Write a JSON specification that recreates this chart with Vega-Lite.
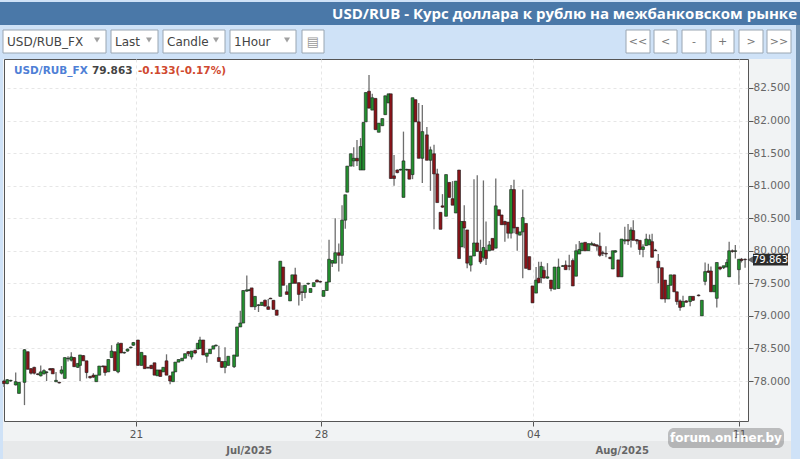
{"$schema":"https://vega.github.io/schema/vega-lite/v6.json","width":744,"height":362,"autosize":"none","padding":{"left":4,"top":59,"right":52,"bottom":38},"background":"#f1f3f4","config":{"view":{"stroke":"#555555","fill":"#ffffff"},"font":"DejaVu Sans"},
"datasets":{"candles":[
{"t":0,"o":78.0,"h":78.02,"l":77.91,"c":77.96},{"t":1,"o":77.96,"h":78.03,"l":77.95,"c":78.02},{"t":2.05,"o":78.0,"h":78.02,"l":77.99,"c":78.01},{"t":3.6,"o":77.94,"h":78.13,"l":77.93,"c":77.99},{"t":4.6,"o":77.81,"h":77.98,"l":77.81,"c":77.98},{"t":6.3,"o":77.98,"h":78.49,"l":77.63,"c":78.48},{"t":7.3,"o":78.45,"h":78.45,"l":78.18,"c":78.18},{"t":8.3,"o":78.19,"h":78.2,"l":78.1,"c":78.12},{"t":9.3,"o":78.21,"h":78.22,"l":78.1,"c":78.12},{"t":10.4,"o":78.11,"h":78.12,"l":78.09,"c":78.1},
{"t":11.3,"o":78.08,"h":78.24,"l":78.07,"c":78.14},{"t":12.3,"o":78.11,"h":78.18,"l":78.1,"c":78.16},{"t":13.1,"o":78.13,"h":78.15,"l":78.0,"c":78.14},{"t":14.2,"o":78.19,"h":78.2,"l":78.16,"c":78.17},{"t":15,"o":78.19,"h":78.2,"l":78.11,"c":78.11},{"t":16,"o":77.99,"h":78.14,"l":77.98,"c":78.01},{"t":17,"o":77.98,"h":77.99,"l":77.96,"c":77.97},{"t":17.7,"o":78.12,"h":78.23,"l":78.1,"c":78.17},{"t":18.7,"o":78.04,"h":78.36,"l":78.04,"c":78.36},{"t":19.7,"o":78.34,"h":78.38,"l":78.3,"c":78.35},
{"t":20.7,"o":78.32,"h":78.44,"l":78.3,"c":78.37},{"t":21.6,"o":78.36,"h":78.37,"l":78.22,"c":78.22},{"t":22.7,"o":78.21,"h":78.27,"l":78.2,"c":78.27},{"t":23.4,"o":78.24,"h":78.4,"l":78.0,"c":78.4},{"t":24.4,"o":78.39,"h":78.4,"l":78.31,"c":78.31},{"t":25.4,"o":78.31,"h":78.31,"l":78.04,"c":78.13},{"t":26.5,"o":78.07,"h":78.08,"l":78.04,"c":78.05},{"t":27.5,"o":78.09,"h":78.12,"l":78.05,"c":78.06},{"t":28.4,"o":77.99,"h":78.09,"l":77.99,"c":78.09},{"t":29.3,"o":78.09,"h":78.23,"l":78.09,"c":78.23},
{"t":30.4,"o":78.23,"h":78.24,"l":78.21,"c":78.22},{"t":31.1,"o":78.23,"h":78.23,"l":78.08,"c":78.13},{"t":32.1,"o":78.14,"h":78.33,"l":78.14,"c":78.33},{"t":33.1,"o":78.36,"h":78.55,"l":78.36,"c":78.46},{"t":34.1,"o":78.45,"h":78.45,"l":78.16,"c":78.16},{"t":35.1,"o":78.14,"h":78.6,"l":78.12,"c":78.57},{"t":36,"o":78.58,"h":78.58,"l":78.43,"c":78.43},{"t":37,"o":78.43,"h":78.45,"l":78.42,"c":78.44},{"t":38,"o":78.46,"h":78.5,"l":78.45,"c":78.49},{"t":39,"o":78.51,"h":78.53,"l":78.5,"c":78.52},
{"t":39.8,"o":78.55,"h":78.6,"l":78.54,"c":78.59},{"t":41.2,"o":78.63,"h":78.63,"l":78.24,"c":78.24},{"t":42.3,"o":78.24,"h":78.44,"l":78.24,"c":78.44},{"t":43.3,"o":78.39,"h":78.39,"l":78.19,"c":78.19},{"t":44.3,"o":78.21,"h":78.22,"l":78.19,"c":78.2},{"t":45.3,"o":78.24,"h":78.25,"l":78.19,"c":78.19},{"t":46.3,"o":78.28,"h":78.28,"l":78.09,"c":78.09},{"t":47.2,"o":78.08,"h":78.17,"l":78.08,"c":78.17},{"t":48.1,"o":78.17,"h":78.17,"l":78.07,"c":78.07},{"t":49,"o":78.14,"h":78.21,"l":78.14,"c":78.21},
{"t":50,"o":78.31,"h":78.41,"l":78.09,"c":78.09},{"t":51.1,"o":78.08,"h":78.08,"l":77.95,"c":78.0},{"t":52,"o":77.99,"h":78.14,"l":77.99,"c":78.14},{"t":52.7,"o":78.14,"h":78.29,"l":78.14,"c":78.29},{"t":53.7,"o":78.29,"h":78.33,"l":78.29,"c":78.33},{"t":54.8,"o":78.31,"h":78.35,"l":78.31,"c":78.35},{"t":55.7,"o":78.35,"h":78.42,"l":78.35,"c":78.42},{"t":56.7,"o":78.45,"h":78.46,"l":78.38,"c":78.42},{"t":57.7,"o":78.37,"h":78.46,"l":78.33,"c":78.46},{"t":58.8,"o":78.47,"h":78.48,"l":78.41,"c":78.43},
{"t":59.6,"o":78.49,"h":78.58,"l":78.49,"c":78.58},{"t":60.3,"o":78.5,"h":78.68,"l":78.5,"c":78.63},{"t":61.3,"o":78.63,"h":78.63,"l":78.4,"c":78.4},{"t":62.4,"o":78.38,"h":78.43,"l":78.28,"c":78.43},{"t":63.4,"o":78.42,"h":78.49,"l":78.42,"c":78.49},{"t":64.4,"o":78.49,"h":78.54,"l":78.49,"c":78.54},{"t":65.2,"o":78.54,"h":78.56,"l":78.53,"c":78.55},{"t":66.1,"o":78.36,"h":78.54,"l":78.3,"c":78.3},{"t":67,"o":78.3,"h":78.3,"l":78.2,"c":78.21},{"t":68,"o":78.21,"h":78.52,"l":78.12,"c":78.3},
{"t":69,"o":78.24,"h":78.38,"l":78.24,"c":78.38},{"t":70.8,"o":78.22,"h":78.4,"l":78.2,"c":78.4},{"t":71.7,"o":78.38,"h":78.83,"l":78.38,"c":78.83},{"t":72.7,"o":78.83,"h":79.08,"l":78.83,"c":78.89},{"t":73.6,"o":78.89,"h":79.39,"l":78.89,"c":79.39},{"t":74.7,"o":79.38,"h":79.62,"l":79.37,"c":79.4},{"t":75.5,"o":79.39,"h":79.41,"l":79.38,"c":79.4},{"t":76.2,"o":79.43,"h":79.43,"l":79.14,"c":79.14},{"t":77.2,"o":79.14,"h":79.3,"l":79.09,"c":79.3},{"t":78.3,"o":79.16,"h":79.18,"l":79.06,"c":79.17},
{"t":79.3,"o":79.16,"h":79.21,"l":79.16,"c":79.21},{"t":80.3,"o":79.24,"h":79.25,"l":79.15,"c":79.15},{"t":81.3,"o":79.14,"h":79.26,"l":79.1,"c":79.1},{"t":82,"o":79.27,"h":79.28,"l":79.26,"c":79.26},{"t":82.9,"o":79.24,"h":79.24,"l":79.1,"c":79.1},{"t":83.9,"o":79.09,"h":79.09,"l":79.01,"c":79.01},{"t":85,"o":79.3,"h":79.84,"l":79.3,"c":79.84},{"t":85.9,"o":79.75,"h":79.75,"l":79.47,"c":79.47},{"t":87,"o":79.37,"h":79.47,"l":79.33,"c":79.33},{"t":88,"o":79.23,"h":79.5,"l":79.23,"c":79.5},
{"t":88.7,"o":79.5,"h":79.63,"l":79.5,"c":79.63},{"t":89.6,"o":79.63,"h":79.74,"l":79.5,"c":79.5},{"t":90.7,"o":79.51,"h":79.51,"l":79.16,"c":79.33},{"t":91.7,"o":79.37,"h":79.47,"l":79.23,"c":79.36},{"t":92.6,"o":79.36,"h":79.47,"l":79.27,"c":79.47},{"t":93.6,"o":79.49,"h":79.51,"l":79.48,"c":79.5},{"t":94.3,"o":79.36,"h":79.42,"l":79.36,"c":79.42},{"t":95.3,"o":79.45,"h":79.51,"l":79.45,"c":79.51},{"t":96.3,"o":79.55,"h":79.56,"l":79.52,"c":79.52},{"t":97.3,"o":79.53,"h":79.54,"l":79.51,"c":79.52},
{"t":98.3,"o":79.3,"h":79.39,"l":79.3,"c":79.39},{"t":99.3,"o":79.39,"h":79.52,"l":79.39,"c":79.52},{"t":100,"o":79.52,"h":80.17,"l":79.52,"c":79.87},{"t":101,"o":79.81,"h":79.86,"l":79.75,"c":79.85},{"t":101.9,"o":79.81,"h":80.5,"l":79.81,"c":79.97},{"t":103,"o":79.97,"h":80.11,"l":79.68,"c":79.93},{"t":104,"o":79.93,"h":80.7,"l":79.8,"c":80.47},{"t":105,"o":80.47,"h":80.86,"l":80.34,"c":80.86},{"t":105.6,"o":80.9,"h":81.3,"l":80.9,"c":81.3},{"t":106.7,"o":81.3,"h":81.49,"l":81.3,"c":81.49},
{"t":107.6,"o":81.38,"h":81.59,"l":81.29,"c":81.42},{"t":108.6,"o":81.42,"h":81.7,"l":81.3,"c":81.38},{"t":109.7,"o":81.24,"h":81.73,"l":81.24,"c":81.6},{"t":110.6,"o":81.24,"h":81.97,"l":81.24,"c":81.97},{"t":111.3,"o":81.98,"h":82.43,"l":81.98,"c":82.43},{"t":112.3,"o":82.45,"h":82.7,"l":82.19,"c":82.19},{"t":113.3,"o":82.16,"h":82.41,"l":82.16,"c":82.35},{"t":114.3,"o":82.34,"h":82.34,"l":81.86,"c":81.86},{"t":115.3,"o":81.82,"h":81.96,"l":81.82,"c":81.96},{"t":116.4,"o":81.92,"h":82.03,"l":81.92,"c":82.03},
{"t":117.3,"o":82.09,"h":82.38,"l":82.09,"c":82.38},{"t":118.3,"o":82.27,"h":82.41,"l":82.27,"c":82.41},{"t":119,"o":82.41,"h":82.41,"l":81.11,"c":81.11},{"t":120,"o":81.15,"h":81.47,"l":81.0,"c":81.11},{"t":121,"o":81.24,"h":81.25,"l":81.19,"c":81.2},{"t":122,"o":81.24,"h":81.26,"l":81.23,"c":81.25},{"t":122.9,"o":80.82,"h":81.83,"l":80.82,"c":81.38},{"t":123.9,"o":81.24,"h":81.26,"l":81.23,"c":81.25},{"t":124.7,"o":81.25,"h":81.25,"l":81.1,"c":81.1},{"t":125.7,"o":81.17,"h":82.35,"l":81.1,"c":82.35},
{"t":126.6,"o":82.32,"h":82.32,"l":81.98,"c":81.98},{"t":127.6,"o":81.98,"h":82.27,"l":81.42,"c":81.42},{"t":128.7,"o":81.42,"h":82.24,"l":81.04,"c":81.83},{"t":130.1,"o":81.78,"h":81.9,"l":81.39,"c":81.39},{"t":131.2,"o":81.39,"h":81.6,"l":80.92,"c":81.55},{"t":132.3,"o":81.49,"h":81.63,"l":80.33,"c":81.18},{"t":133.3,"o":81.18,"h":81.26,"l":80.74,"c":80.74},{"t":134.3,"o":80.59,"h":80.59,"l":80.33,"c":80.33},{"t":134.9,"o":80.69,"h":80.87,"l":80.66,"c":80.67},{"t":136,"o":80.53,"h":81.17,"l":80.53,"c":81.17},
{"t":137,"o":81.05,"h":81.05,"l":80.82,"c":80.82},{"t":138,"o":80.8,"h":81.07,"l":80.7,"c":80.7},{"t":139,"o":80.58,"h":81.07,"l":80.58,"c":81.07},{"t":140,"o":81.24,"h":81.24,"l":79.88,"c":79.88},{"t":140.8,"o":80.06,"h":80.45,"l":80.06,"c":80.45},{"t":141.6,"o":80.45,"h":80.7,"l":80.04,"c":80.35},{"t":142.5,"o":80.32,"h":80.32,"l":79.73,"c":79.81},{"t":143.6,"o":79.78,"h":79.92,"l":79.68,"c":79.92},{"t":144.6,"o":79.92,"h":81.1,"l":79.92,"c":80.12},{"t":145.6,"o":80.12,"h":81.16,"l":79.99,"c":79.99},
{"t":146.6,"o":79.99,"h":80.17,"l":79.8,"c":79.83},{"t":147.5,"o":79.9,"h":81.08,"l":79.85,"c":80.05},{"t":148.3,"o":80.01,"h":80.45,"l":79.78,"c":79.88},{"t":149.3,"o":80.0,"h":80.15,"l":80.0,"c":80.09},{"t":150.3,"o":80.19,"h":80.19,"l":80.01,"c":80.01},{"t":151.3,"o":80.04,"h":81.11,"l":80.04,"c":80.69},{"t":152.3,"o":80.63,"h":80.63,"l":80.54,"c":80.54},{"t":153.1,"o":80.55,"h":80.55,"l":80.4,"c":80.4},{"t":154.1,"o":80.45,"h":80.46,"l":80.14,"c":80.4},{"t":155.1,"o":80.44,"h":80.44,"l":80.19,"c":80.27},
{"t":156,"o":80.27,"h":81.01,"l":80.19,"c":80.94},{"t":156.9,"o":80.94,"h":81.09,"l":80.27,"c":80.35},{"t":157.9,"o":80.36,"h":80.36,"l":80.0,"c":80.26},{"t":158.7,"o":80.24,"h":80.29,"l":80.24,"c":80.29},{"t":159.6,"o":80.29,"h":80.94,"l":79.58,"c":80.51},{"t":160.6,"o":80.42,"h":80.42,"l":79.73,"c":79.73},{"t":161.6,"o":79.91,"h":79.91,"l":79.71,"c":79.71},{"t":162.6,"o":79.46,"h":79.46,"l":79.2,"c":79.2},{"t":163.7,"o":79.35,"h":79.75,"l":79.35,"c":79.55},{"t":164.5,"o":79.58,"h":79.83,"l":79.5,"c":79.51},
{"t":165.3,"o":79.59,"h":79.83,"l":79.5,"c":79.76},{"t":166.1,"o":79.7,"h":79.76,"l":79.58,"c":79.58},{"t":167.2,"o":79.58,"h":79.81,"l":79.57,"c":79.6},{"t":168.3,"o":79.55,"h":79.55,"l":79.38,"c":79.42},{"t":169.4,"o":79.41,"h":79.75,"l":79.41,"c":79.75},{"t":170.6,"o":79.42,"h":79.88,"l":79.42,"c":79.75},{"t":171.9,"o":79.76,"h":79.78,"l":79.75,"c":79.77},{"t":172.8,"o":79.78,"h":79.85,"l":79.71,"c":79.71},{"t":173.9,"o":79.77,"h":79.94,"l":79.7,"c":79.76},{"t":175,"o":79.85,"h":79.88,"l":79.46,"c":79.46},
{"t":176,"o":79.61,"h":80.1,"l":79.61,"c":80.0},{"t":177,"o":79.95,"h":80.15,"l":79.95,"c":80.02},{"t":177.8,"o":80.0,"h":80.12,"l":80.0,"c":80.12},{"t":178.8,"o":80.13,"h":80.13,"l":80.0,"c":80.0},{"t":179.8,"o":80.0,"h":80.11,"l":80.0,"c":80.11},{"t":180.8,"o":80.09,"h":80.14,"l":80.08,"c":80.11},{"t":181.6,"o":80.1,"h":80.12,"l":80.07,"c":80.08},{"t":182.4,"o":80.09,"h":80.1,"l":80.0,"c":80.07},{"t":183.3,"o":80.07,"h":80.28,"l":79.91,"c":79.93},{"t":184.2,"o":79.97,"h":80.0,"l":79.92,"c":79.96},
{"t":185.2,"o":79.96,"h":80.07,"l":79.9,"c":79.95},{"t":186.5,"o":79.9,"h":79.91,"l":79.87,"c":79.88},{"t":187.3,"o":79.72,"h":80.0,"l":79.72,"c":80.0},{"t":188.1,"o":79.98,"h":80.01,"l":79.97,"c":80.0},{"t":189,"o":79.86,"h":79.86,"l":79.6,"c":79.6},{"t":190,"o":79.6,"h":80.18,"l":79.6,"c":80.18},{"t":191,"o":80.15,"h":80.37,"l":80.1,"c":80.17},{"t":192,"o":80.17,"h":80.41,"l":80.09,"c":80.15},{"t":192.9,"o":80.17,"h":80.36,"l":80.05,"c":80.32},{"t":193.6,"o":80.31,"h":80.47,"l":80.16,"c":80.16},
{"t":194.7,"o":80.17,"h":80.18,"l":80.1,"c":80.15},{"t":195.6,"o":80.16,"h":80.16,"l":79.94,"c":80.02},{"t":196.6,"o":80.02,"h":80.1,"l":79.9,"c":80.06},{"t":197.6,"o":80.08,"h":80.26,"l":80.08,"c":80.18},{"t":198.6,"o":80.09,"h":80.25,"l":80.09,"c":80.17},{"t":199.4,"o":80.14,"h":80.26,"l":79.9,"c":79.9},{"t":200.4,"o":80.01,"h":80.03,"l":80.0,"c":80.0},{"t":201.3,"o":79.84,"h":79.95,"l":79.5,"c":79.74},{"t":202.4,"o":79.74,"h":79.74,"l":79.26,"c":79.26},{"t":203.4,"o":79.55,"h":79.55,"l":79.2,"c":79.26},
{"t":204.4,"o":79.26,"h":79.47,"l":79.26,"c":79.47},{"t":205.1,"o":79.47,"h":79.63,"l":79.47,"c":79.63},{"t":206.2,"o":79.63,"h":79.63,"l":79.37,"c":79.37},{"t":207,"o":79.37,"h":79.37,"l":79.17,"c":79.22},{"t":208,"o":79.23,"h":79.25,"l":79.08,"c":79.13},{"t":208.9,"o":79.14,"h":79.31,"l":79.14,"c":79.22},{"t":209.9,"o":79.23,"h":79.24,"l":79.2,"c":79.21},{"t":211.1,"o":79.22,"h":79.3,"l":79.15,"c":79.3},{"t":212,"o":79.3,"h":79.3,"l":79.23,"c":79.24},{"t":213.7,"o":79.32,"h":79.33,"l":79.3,"c":79.31},
{"t":214.7,"o":79.0,"h":79.24,"l":79.0,"c":79.24},{"t":215.7,"o":79.53,"h":79.82,"l":79.47,"c":79.68},{"t":216.7,"o":79.69,"h":79.8,"l":79.66,"c":79.67},{"t":217.5,"o":79.69,"h":79.76,"l":79.37,"c":79.37},{"t":218.5,"o":79.37,"h":79.47,"l":79.37,"c":79.47},{"t":219.3,"o":79.27,"h":79.82,"l":79.13,"c":79.82},{"t":220.3,"o":79.75,"h":79.76,"l":79.7,"c":79.72},{"t":221.4,"o":79.74,"h":79.77,"l":79.72,"c":79.77},{"t":222.4,"o":79.75,"h":79.87,"l":79.75,"c":79.82},{"t":223.1,"o":79.6,"h":80.14,"l":79.6,"c":80.0},
{"t":224.1,"o":80.0,"h":80.02,"l":79.97,"c":79.99},{"t":225,"o":79.99,"h":80.09,"l":79.88,"c":80.0},{"t":226.1,"o":79.71,"h":79.87,"l":79.48,"c":79.87},{"t":226.9,"o":79.87,"h":79.89,"l":79.82,"c":79.85},{"t":228,"o":79.87,"h":79.88,"l":79.74,"c":79.863}
],"months":[{"t":75.4,"m":"Jul/2025"},{"t":190.2,"m":"Aug/2025"}]},
"layer":[
{"data":{"values":[{}]},"mark":{"type":"rect","x":-4,"x2":796,"y":-59,"y2":0,"fill":"#cfe2f7"},"encoding":{}},
{"data":{"values":[{}]},"mark":{"type":"rect","x":-4,"x2":796,"y":-57,"y2":-34,"fill":"#4a78a8"},"encoding":{}},
{"data":{"values":[{}]},"mark":{"type":"rect","x":-4,"x2":-1,"y":-34,"y2":400,"fill":"#cfe2f7"},"encoding":{}},
{"data":{"values":[{}]},"mark":{"type":"rect","x":787,"x2":796,"y":-34,"y2":400,"fill":"#cfe2f7"},"encoding":{}},
{"data":{"values":[{}]},"mark":{"type":"rect","x":792,"x2":796,"y":-34,"y2":161,"fill":"#7392b0"},"encoding":{}},
{"data":{"values":[{}]},"mark":{"type":"rect","x":-1,"x2":787,"y":382,"y2":400,"fill":"#e7e9ea"},"encoding":{}},
{"data":{"values":[{}]},"mark":{"type":"text","x":793,"y":-45,"align":"right","baseline":"middle","text":"USD/RUB - Курс доллара к рублю на межбанковском рынке","fontSize":15,"fontWeight":"bold","font":"Open Sans","fill":"#ffffff"},"encoding":{}},
{"data":{"values":[{}]},"mark":{"type":"rect","x":-1,"x2":102,"y":-29,"y2":-6,"fill":"#ffffff","stroke":"#9aa6b2"},"encoding":{}},
{"data":{"values":[{}]},"mark":{"type":"rect","x":107,"x2":154,"y":-29,"y2":-6,"fill":"#ffffff","stroke":"#9aa6b2"},"encoding":{}},
{"data":{"values":[{}]},"mark":{"type":"rect","x":159,"x2":221,"y":-29,"y2":-6,"fill":"#ffffff","stroke":"#9aa6b2"},"encoding":{}},
{"data":{"values":[{}]},"mark":{"type":"rect","x":226,"x2":292,"y":-29,"y2":-6,"fill":"#ffffff","stroke":"#9aa6b2"},"encoding":{}},
{"data":{"values":[{}]},"mark":{"type":"rect","x":298,"x2":320,"y":-29,"y2":-6,"fill":"#ffffff","stroke":"#9aa6b2"},"encoding":{}},
{"data":{"values":[{}]},"mark":{"type":"rule","x":84,"y":-29,"y2":-6,"stroke":"#9aa6b2"},"encoding":{}},
{"data":{"values":[{}]},"mark":{"type":"rule","x":137,"y":-29,"y2":-6,"stroke":"#9aa6b2"},"encoding":{}},
{"data":{"values":[{}]},"mark":{"type":"rule","x":203,"y":-29,"y2":-6,"stroke":"#9aa6b2"},"encoding":{}},
{"data":{"values":[{}]},"mark":{"type":"rule","x":274,"y":-29,"y2":-6,"stroke":"#9aa6b2"},"encoding":{}},
{"data":{"values":[{}]},"mark":{"type":"text","x":3,"y":-17,"align":"left","baseline":"middle","text":"USD/RUB_FX","fontSize":12,"fill":"#444444"},"encoding":{}},
{"data":{"values":[{}]},"mark":{"type":"text","x":111,"y":-17,"align":"left","baseline":"middle","text":"Last","fontSize":12,"fill":"#444444"},"encoding":{}},
{"data":{"values":[{}]},"mark":{"type":"text","x":163,"y":-17,"align":"left","baseline":"middle","text":"Candle","fontSize":12,"fill":"#444444"},"encoding":{}},
{"data":{"values":[{}]},"mark":{"type":"text","x":230,"y":-17,"align":"left","baseline":"middle","text":"1Hour","fontSize":12,"fill":"#444444"},"encoding":{}},
{"data":{"values":[{}]},"mark":{"type":"point","shape":"triangle-down","filled":true,"x":93,"y":-19,"size":36,"fill":"#777777"},"encoding":{}},
{"data":{"values":[{}]},"mark":{"type":"point","shape":"triangle-down","filled":true,"x":145,"y":-19,"size":36,"fill":"#777777"},"encoding":{}},
{"data":{"values":[{}]},"mark":{"type":"point","shape":"triangle-down","filled":true,"x":212,"y":-19,"size":36,"fill":"#777777"},"encoding":{}},
{"data":{"values":[{}]},"mark":{"type":"point","shape":"triangle-down","filled":true,"x":283,"y":-19,"size":36,"fill":"#777777"},"encoding":{}},
{"data":{"values":[{}]},"mark":{"type":"text","x":309,"y":-17,"align":"center","baseline":"middle","text":"▤","fontSize":13,"fill":"#999999"},"encoding":{}},
{"data":{"values":[{}]},"mark":{"type":"rect","x":622,"x2":646,"y":-29,"y2":-6,"fill":"#ffffff","stroke":"#9aa6b2"},"encoding":{}},
{"data":{"values":[{}]},"mark":{"type":"rect","x":650,"x2":673,"y":-29,"y2":-6,"fill":"#ffffff","stroke":"#9aa6b2"},"encoding":{}},
{"data":{"values":[{}]},"mark":{"type":"rect","x":678,"x2":702,"y":-29,"y2":-6,"fill":"#ffffff","stroke":"#9aa6b2"},"encoding":{}},
{"data":{"values":[{}]},"mark":{"type":"rect","x":707,"x2":730,"y":-29,"y2":-6,"fill":"#ffffff","stroke":"#9aa6b2"},"encoding":{}},
{"data":{"values":[{}]},"mark":{"type":"rect","x":735,"x2":759,"y":-29,"y2":-6,"fill":"#ffffff","stroke":"#9aa6b2"},"encoding":{}},
{"data":{"values":[{}]},"mark":{"type":"rect","x":763,"x2":787,"y":-29,"y2":-6,"fill":"#ffffff","stroke":"#9aa6b2"},"encoding":{}},
{"data":{"values":[{}]},"mark":{"type":"text","x":634,"y":-17,"align":"center","baseline":"middle","text":"<<","fontSize":11,"fill":"#777777"},"encoding":{}},
{"data":{"values":[{}]},"mark":{"type":"text","x":661.5,"y":-17,"align":"center","baseline":"middle","text":"<","fontSize":11,"fill":"#777777"},"encoding":{}},
{"data":{"values":[{}]},"mark":{"type":"text","x":690,"y":-17,"align":"center","baseline":"middle","text":"-","fontSize":11,"fill":"#777777"},"encoding":{}},
{"data":{"values":[{}]},"mark":{"type":"text","x":718.5,"y":-17,"align":"center","baseline":"middle","text":"+","fontSize":11,"fill":"#777777"},"encoding":{}},
{"data":{"values":[{}]},"mark":{"type":"text","x":747,"y":-17,"align":"center","baseline":"middle","text":">","fontSize":11,"fill":"#777777"},"encoding":{}},
{"data":{"values":[{}]},"mark":{"type":"text","x":775,"y":-17,"align":"center","baseline":"middle","text":">>","fontSize":11,"fill":"#777777"},"encoding":{}},
{"data":{"name":"candles"},"mark":{"type":"rule","stroke":"#6e6e6e","strokeWidth":1.3},"encoding":{"x":{"field":"t","type":"quantitative","scale":{"domain":[0,228.9],"nice":false,"zero":false,"padding":0},"axis":{"values":[40.6,97.5,162.8,226.2],"labelExpr":"datum.value==40.6?'21':datum.value==97.5?'28':datum.value==162.8?'04':'11'","title":null,"domain":false,"tickColor":"#555555","tickSize":5,"labelColor":"#555555","labelFontSize":10.5,"labelPadding":3,"grid":true,"gridColor":"#e6e6e6","gridDash":[3,3]}},"y":{"field":"l","type":"quantitative","scale":{"domain":[77.386,82.945],"nice":false,"zero":false},"axis":{"orient":"right","values":[78,78.5,79,79.5,80,80.5,81,81.5,82,82.5],"format":".3f","title":null,"domain":false,"tickColor":"#555555","tickSize":5,"labelColor":"#666666","labelFontSize":10.5,"labelPadding":0,"grid":true,"gridColor":"#e6e6e6","gridDash":[3,3]}},"y2":{"field":"h"}}},
{"data":{"name":"candles"},"transform":[{"calculate":"datum.c>=datum.o?'up':'down'","as":"dir"}],"mark":{"type":"bar","size":2.9,"stroke":"#1c1c1c","strokeWidth":0.6},"encoding":{"x":{"field":"t","type":"quantitative"},"y":{"field":"o","type":"quantitative"},"y2":{"field":"c"},"color":{"field":"dir","type":"nominal","scale":{"domain":["up","down"],"range":["#23902f","#8a1419"]},"legend":null}}},
{"data":{"values":[{}]},"mark":{"type":"text","x":10,"y":12,"align":"left","baseline":"middle","text":"USD/RUB_FX","fontSize":10.5,"fontWeight":"bold","fill":"#4f7fd6"},"encoding":{}},
{"data":{"values":[{}]},"mark":{"type":"text","x":88,"y":12,"align":"left","baseline":"middle","text":"79.863","fontSize":10.5,"fontWeight":"bold","fill":"#444444"},"encoding":{}},
{"data":{"values":[{}]},"mark":{"type":"text","x":134,"y":12,"align":"left","baseline":"middle","text":"-0.133(-0.17%)","fontSize":10.5,"fontWeight":"bold","fill":"#d0492f"},"encoding":{}},
{"data":{"name":"months"},"mark":{"type":"text","y":392,"align":"center","baseline":"middle","fontSize":10,"fontWeight":"bold","fill":"#666666"},"encoding":{"x":{"field":"t","type":"quantitative"},"text":{"field":"m"}}},
{"data":{"values":[{}]},"mark":{"type":"point","shape":"triangle-left","filled":true,"x":747,"size":70,"fill":"#2b2b2b"},"encoding":{"y":{"datum":79.863,"type":"quantitative"}}},
{"data":{"values":[{}]},"mark":{"type":"rect","x":749,"x2":784,"fill":"#2b2b2b"},"encoding":{"y":{"datum":79.955,"type":"quantitative"},"y2":{"datum":79.775}}},
{"data":{"values":[{}]},"mark":{"type":"text","x":766.5,"align":"center","baseline":"middle","text":"79.863","fontSize":10,"fill":"#ffffff"},"encoding":{"y":{"datum":79.863,"type":"quantitative"}}},
{"data":{"values":[{}]},"mark":{"type":"rect","x":664,"x2":780,"y":369,"y2":389,"fill":"#555555","opacity":0.35,"cornerRadius":6},"encoding":{}},
{"data":{"values":[{}]},"mark":{"type":"text","x":722,"y":379,"align":"center","baseline":"middle","text":"forum.onliner.by","fontSize":12,"fontWeight":"bold","fill":"#ffffff"},"encoding":{}}
]}
